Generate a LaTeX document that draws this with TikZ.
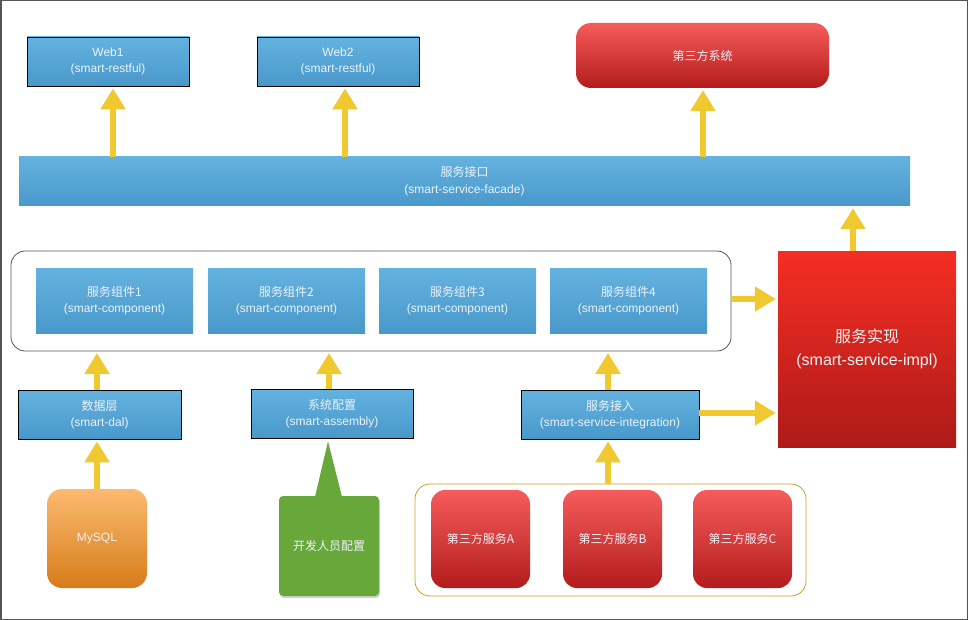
\documentclass[tikz,border=0pt]{standalone}
\usepackage{fontspec}
\setmainfont{Liberation Sans}
\newfontfamily\cjk{Noto Sans CJK SC}
\usepackage{xcolor}
\usetikzlibrary{arrows.meta,shadows,calc}
\definecolor{bluetop}{RGB}{100,178,223}
\definecolor{bluebot}{RGB}{72,152,202}
\definecolor{redtop}{RGB}{246,92,92}
\definecolor{redbot}{RGB}{180,28,28}
\definecolor{impltop}{RGB}{245,46,36}
\definecolor{implbot}{RGB}{174,26,24}
\definecolor{orangetop}{RGB}{250,186,112}
\definecolor{orangebot}{RGB}{215,124,26}
\definecolor{devgreen}{RGB}{104,168,58}
\definecolor{fatyellow}{RGB}{240,200,48}
\definecolor{goldline}{RGB}{200,160,40}
\definecolor{framegray}{RGB}{85,85,85}
\definecolor{labelgray}{RGB}{238,243,248}

\tikzset{
  bluepanel/.style={inner sep=0pt, align=center, text=labelgray,
    font=\fontsize{12}{16}\selectfont, top color=bluetop, bottom color=bluebot},
  bluebox/.style={bluepanel, draw=black, line width=0.8pt},
  redbox/.style={inner sep=0pt, align=center, text=labelgray, rounded corners=14pt,
    font=\fontsize{12}{16}\selectfont, top color=redtop, bottom color=redbot},
  fatarrow/.style={draw=fatyellow, line width=6pt,
    -{Triangle[width=24pt,length=21pt]}, shorten >=2pt}
}

\begin{document}
\begin{tikzpicture}[x=1pt,y=-1pt]
\useasboundingbox (0,0) rectangle (968,620);
\draw[line width=3pt, color=framegray] (0,0) rectangle (968,620);

% top row
\node[bluebox, minimum width=162pt, minimum height=49pt] (web1) at (108,61.5)
  {Web1\\(smart-restful)};
\node[bluebox, minimum width=162pt, minimum height=49pt] (web2) at (338,61.5)
  {Web2\\(smart-restful)};
\node[redbox, minimum width=253pt, minimum height=65pt, rounded corners=15pt] (thirdsys) at (702.5,55.5)
  {\cjk 第三方系统};

\node[bluepanel, minimum width=891pt, minimum height=49pt, font=\fontsize{12}{17}\selectfont] (facade) at (464.5,181.5)
  {{\cjk 服务接口}\\(smart-service-facade)};

% components
\draw[color=framegray, line width=0.8pt, rounded corners=14pt] (11,251) rectangle (731,351);
\coordinate (compframe) at (731,299);
\coordinate (compbottom) at (371,351);
\node[bluepanel, minimum width=157pt, minimum height=65pt] (comp1) at (114.5,300.5)
  {{\cjk 服务组件1}\\(smart-component)};
\node[bluepanel, minimum width=157pt, minimum height=65pt] (comp2) at (286.5,300.5)
  {{\cjk 服务组件2}\\(smart-component)};
\node[bluepanel, minimum width=157pt, minimum height=65pt] (comp3) at (457.5,300.5)
  {{\cjk 服务组件3}\\(smart-component)};
\node[bluepanel, minimum width=157pt, minimum height=65pt] (comp4) at (628.5,300.5)
  {{\cjk 服务组件4}\\(smart-component)};

\node[inner sep=0pt, align=center, text=labelgray, minimum width=178pt, minimum height=196pt,
  top color=impltop, bottom color=implbot, font=\fontsize{16}{23}\selectfont] (impl) at (867,349)
  {{\cjk 服务实现}\\(smart-service-impl)};

% lower row
\node[bluebox, minimum width=163pt, minimum height=49pt] (dal) at (99.5,414.5)
  {{\cjk 数据层}\\(smart-dal)};
\node[bluebox, minimum width=162pt, minimum height=49pt] (assembly) at (332,413.5)
  {{\cjk 系统配置}\\(smart-assembly)};
\node[bluebox, minimum width=178pt, minimum height=49pt] (integ) at (610,414.5)
  {{\cjk 服务接入}\\(smart-service-integration)};

\node[inner sep=0pt, text=labelgray, minimum width=100pt, minimum height=99pt, rounded corners=15pt,
  top color=orangetop, bottom color=orangebot, font=\fontsize{12}{16}\selectfont] (mysql) at (97,538.5)
  {MySQL};
\node[inner sep=0pt, text=labelgray, minimum width=100pt, minimum height=100pt, rounded corners=4pt,
  fill=devgreen, font=\fontsize{12}{16}\selectfont\cjk,
  drop shadow={shadow xshift=1pt, shadow yshift=-2pt, opacity=0.35}] (devcfg) at (329,546)
  {开发人员配置};
\fill[devgreen] ([xshift=-14pt,yshift=-1pt]devcfg.north) -- ($(assembly.south)+(-4,3)$)
  -- ([xshift=13pt,yshift=-1pt]devcfg.north) -- cycle;

\draw[color=goldline, line width=0.8pt, rounded corners=15pt] (415,484) rectangle (806,596);
\coordinate (tpframe) at (608,484);
\node[redbox, minimum width=99pt, minimum height=98pt] (tpA) at (480.5,539) {\cjk 第三方服务A};
\node[redbox, minimum width=99pt, minimum height=98pt] (tpB) at (612.5,539) {\cjk 第三方服务B};
\node[redbox, minimum width=99pt, minimum height=98pt] (tpC) at (742.5,539) {\cjk 第三方服务C};

% arrows
\draw[fatarrow] (113,0 |- facade.north) -- (113,0 |- web1.south);
\draw[fatarrow] (345,0 |- facade.north) -- (345,0 |- web2.south);
\draw[fatarrow] (703,0 |- facade.north) -- (703,0 |- thirdsys.south);
\draw[fatarrow] (853,0 |- impl.north) -- (853,0 |- facade.south);
\draw[fatarrow] (compframe) -- (impl.west |- compframe);
\draw[fatarrow] (97,0 |- dal.north) -- (97,0 |- compbottom);
\draw[fatarrow] (329,0 |- assembly.north) -- (329,0 |- compbottom);
\draw[fatarrow] (608,0 |- integ.north) -- (608,0 |- compbottom);
\draw[fatarrow] (integ.east |- 0,413) -- (impl.west |- 0,413);
\draw[fatarrow] (97,0 |- mysql.north) -- (97,0 |- dal.south);
\draw[fatarrow] (tpframe) -- (608,0 |- integ.south);
\end{tikzpicture}
\end{document}
